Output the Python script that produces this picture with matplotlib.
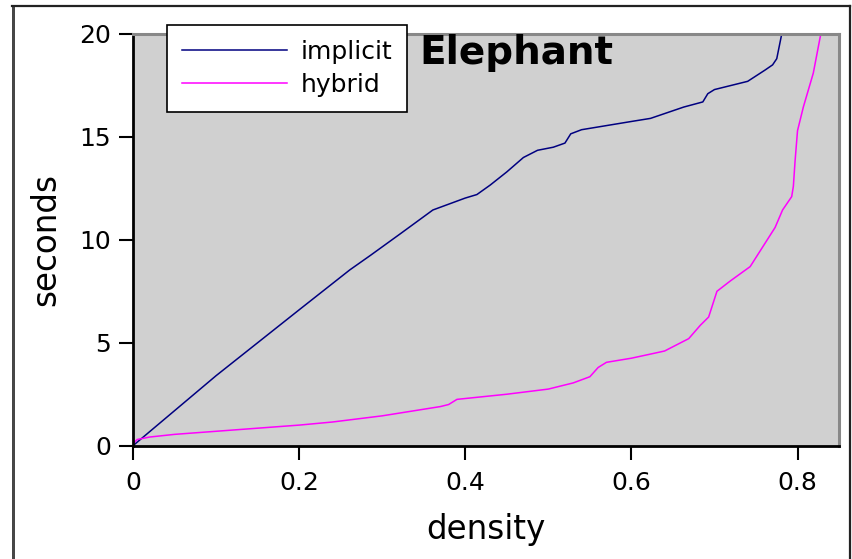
import numpy as np
import matplotlib.pyplot as plt
from matplotlib.lines import Line2D

# values
implicit_x = [0.0, 0.05, 0.10, 0.15, 0.20, 0.261, 0.286, 0.322, 0.361, 0.40, 0.414,
              0.43, 0.45, 0.47, 0.487, 0.506, 0.52, 0.527, 0.54, 0.60, 0.623, 0.663,
              0.686, 0.692, 0.70, 0.74, 0.761, 0.77, 0.775, 0.781, 0.79]
implicit_y = [0.0, 1.7, 3.4, 5.0, 6.6, 8.54, 9.25, 10.3, 11.45, 12.03, 12.2,
              12.66, 13.3, 14.0, 14.35, 14.5, 14.7, 15.15, 15.35, 15.75, 15.9, 16.45,
              16.7, 17.1, 17.3, 17.7, 18.25, 18.5, 18.8, 20.0, 21.0]

hybrid_x = [0.0, 0.005, 0.02, 0.05, 0.10, 0.15, 0.20, 0.24, 0.30, 0.37, 0.38, 0.39,
            0.45, 0.50, 0.53, 0.55, 0.56, 0.57, 0.60, 0.623, 0.64, 0.669, 0.683, 0.693,
            0.703, 0.719, 0.743, 0.758, 0.773, 0.782, 0.793, 0.795, 0.797, 0.80,
            0.807, 0.819, 0.828, 0.835]
hybrid_y = [0.1, 0.3, 0.42, 0.55, 0.7, 0.85, 1.0, 1.15, 1.45, 1.9, 2.0, 2.25,
            2.5, 2.75, 3.05, 3.35, 3.8, 4.05, 4.25, 4.45, 4.6, 5.2, 5.85, 6.25,
            7.5, 8.0, 8.7, 9.65, 10.6, 11.45, 12.1, 12.6, 13.8, 15.3,
            16.45, 18.1, 20.0, 21.0]

fig = plt.figure(figsize=(8.52, 5.59), dpi=100)
ax = fig.add_axes([0.1561, 0.2027, 0.8287, 0.7365])
ax.set_facecolor('#d0d0d0')

ax.plot(implicit_x, implicit_y, color='#000080', lw=1.1, label='implicit')
ax.plot(hybrid_x, hybrid_y, color='#ff00ff', lw=1.1, label='hybrid')

ax.set_xlim(0, 0.85)
ax.set_ylim(0, 20)
ax.set_xticks([0, 0.2, 0.4, 0.6, 0.8])
ax.set_xticklabels(['0', '0.2', '0.4', '0.6', '0.8'])
ax.set_yticks([0, 5, 10, 15, 20])
ax.tick_params(direction='out', length=10, width=1.5, labelsize=18, pad=6)
ax.tick_params(axis='x', pad=8)

for s in ['left', 'bottom']:
    ax.spines[s].set_color('black')
    ax.spines[s].set_linewidth(2)
for s in ['top', 'right']:
    ax.spines[s].set_color('#888888')
    ax.spines[s].set_linewidth(2.2)

ax.set_xlabel('density', fontsize=23.5, labelpad=13.5)
ax.set_ylabel('seconds', fontsize=23.5, labelpad=12)

ax.text(0.405, 1.0, 'Elephant', transform=ax.transAxes, fontsize=28,
        fontweight='bold', va='top', ha='left')

leg = ax.legend(loc='upper left', bbox_to_anchor=(0.048, 1.022), fontsize=18,
                frameon=True, fancybox=False, framealpha=1, edgecolor='black',
                handlelength=4.2, handletextpad=0.55, borderpad=0.6,
                labelspacing=0.35, borderaxespad=0)
leg.get_frame().set_linewidth(1.2)

# outer frame lines of the picture
W, H = 852.0, 559.0
fig.add_artist(Line2D([12 / W, 849.5 / W], [1 - 6 / H, 1 - 6 / H], transform=fig.transFigure,
                      color='#222222', lw=1.6))
fig.add_artist(Line2D([849.5 / W, 849.5 / W], [0, 1 - 6 / H], transform=fig.transFigure,
                      color='#222222', lw=1.6))
fig.add_artist(Line2D([12.3 / W, 12.3 / W], [0, 1 - 6 / H], transform=fig.transFigure,
                      color='#222222', lw=0.6))
fig.add_artist(Line2D([14.2 / W, 14.2 / W], [0, 1 - 6 / H], transform=fig.transFigure,
                      color='#222222', lw=1.2))

fig.savefig('out.png', dpi=100)
